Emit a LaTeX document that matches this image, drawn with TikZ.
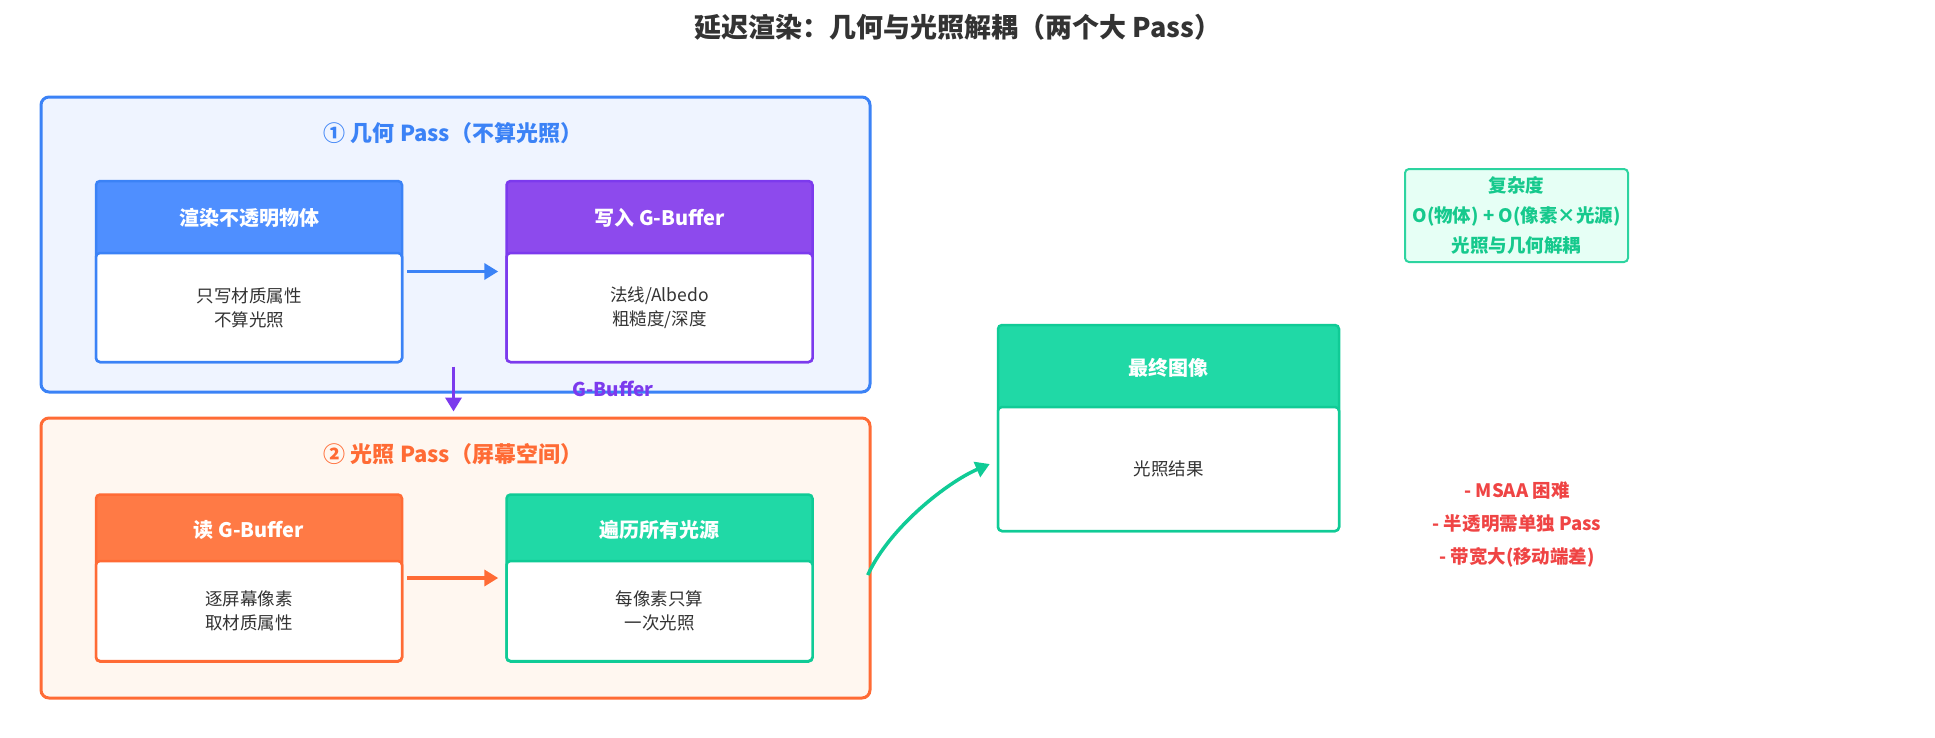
\documentclass[tikz,border=0pt]{standalone}
\usepackage{fontspec}
\setmainfont{Noto Sans CJK SC}
\usetikzlibrary{arrows.meta}
\definecolor{ttl}{HTML}{333333}
\definecolor{bodytxt}{HTML}{333333}
\definecolor{blueB}{HTML}{3B82F6}
\definecolor{blueH}{HTML}{4F8FFF}
\definecolor{blueBg}{HTML}{EFF4FF}
\definecolor{purB}{HTML}{7C3AED}
\definecolor{purH}{HTML}{8D4AED}
\definecolor{oraB}{HTML}{FF6B35}
\definecolor{oraH}{HTML}{FF7A45}
\definecolor{oraBg}{HTML}{FFF7F0}
\definecolor{grnB}{HTML}{10CB96}
\definecolor{grnH}{HTML}{20D9A6}
\definecolor{cxBg}{HTML}{E6FFF5}
\definecolor{cxB}{HTML}{2DD4A0}
\definecolor{cxT}{HTML}{16C98D}
\definecolor{redT}{HTML}{EF4444}
\tikzset{
  cluster/.style={line width=3pt, rounded corners=8pt, inner sep=0pt},
  cardbox/.style={line width=2.5pt, rounded corners=4pt, inner sep=0pt, minimum width=306pt},
  cardbody/.style={line width=2.5pt, rounded corners=4pt, inner sep=0pt, fill=white, minimum width=306pt,
     align=center, text=bodytxt, font=\fontsize{17.5}{24}\selectfont},
  hdrtxt/.style={text=white, font=\fontsize{20}{24}\selectfont\bfseries},
  cltitle/.style={font=\fontsize{22}{26}\selectfont\bfseries},
  flow/.style={line width=3.5pt, -{Triangle[length=14pt,width=16pt]}},
}
\begin{document}
\begin{tikzpicture}[x=1pt,y=-1pt]
\useasboundingbox (0,0) rectangle (1935,737);

\node[font=\fontsize{27}{32}\selectfont\bfseries, text=ttl] (title) at (958,27) {延迟渲染：几何与光照解耦（两个大 Pass）};

% clusters
\node[cluster, draw=blueB, fill=blueBg, minimum width=829pt, minimum height=295pt] (G) at (455.5,244.5) {};
\node[cltitle, text=blueB] (Gt) at (453,133) {① 几何 Pass（不算光照）};
\node[cluster, draw=oraB, fill=oraBg, minimum width=829pt, minimum height=280pt] (L) at (455.5,558) {};
\node[cltitle, text=oraB] (Lt) at (453,454) {② 光照 Pass（屏幕空间）};

% card A
\node[cardbox, draw=blueB, fill=blueH, minimum height=181pt] (A) at (249,271.5) {};
\node[hdrtxt] (Ah) at (249,218) {渲染不透明物体};
\node[cardbody, draw=blueB, minimum height=109pt] (Ab) at (249,307.5) {只写材质属性\\不算光照};
% card B
\node[cardbox, draw=purB, fill=purH, minimum height=181pt] (B) at (659.5,271.5) {};
\node[hdrtxt] (Bh) at (659.5,218) {写入 G-Buffer};
\node[cardbody, draw=purB, minimum height=109pt] (Bb) at (659.5,307.5) {法线/Albedo\\粗糙度/深度};
% card C
\node[cardbox, draw=oraB, fill=oraH, minimum height=167pt] (C) at (249,578) {};
\node[hdrtxt] (Ch) at (249,530) {读 G-Buffer};
\node[cardbody, draw=oraB, minimum height=100pt] (Cb) at (249,611) {逐屏幕像素\\取材质属性};
% card D
\node[cardbox, draw=grnB, fill=grnH, minimum height=167pt] (D) at (659.5,578) {};
\node[hdrtxt] (Dh) at (659.5,530) {遍历所有光源};
\node[cardbody, draw=grnB, minimum height=100pt] (Db) at (659.5,611) {每像素只算\\一次光照};
% card E
\node[cardbox, draw=grnB, fill=grnH, minimum width=341pt, minimum height=206pt] (E) at (1168.5,428) {};
\node[hdrtxt] (Eh) at (1168.5,368) {最终图像};
\node[cardbody, draw=grnB, minimum width=341pt, minimum height=124pt] (Eb) at (1168.5,469) {光照结果};

% connectors
\draw[flow, blueB] ([xshift=4pt]A.east) -- ([xshift=-7pt]B.west);
\draw[flow, oraB] ([xshift=4pt]C.east) -- ([xshift=-7pt]D.west);
\draw[flow, purB] ([xshift=-2pt,yshift=27pt]G.south) -- ([xshift=-2pt,yshift=5pt]L.north);
\node[text=purB, font=\fontsize{19}{22}\selectfont\bfseries] (gbl) at (613,389) {G-Buffer};
\draw[flow, grnB] ([xshift=54pt,yshift=3pt]D.east) .. controls +(22,-48) and +(-42,18) .. ([xshift=-7pt,yshift=-36pt]E.west);

% complexity box
\node[draw=cxB, fill=cxBg, line width=2pt, rounded corners=4pt, minimum width=223pt, minimum height=93pt,
  inner sep=0pt, align=center, text=cxT, font=\fontsize{18.5}{30}\selectfont\bfseries] (cx) at (1516.5,215.5)
  {复杂度\\O(物体) + O(像素×光源)\\光照与几何解耦};

% drawbacks
\node[align=center, text=redT, font=\fontsize{18.5}{33}\selectfont\bfseries] (cons) at (1517,524)
  {- MSAA 困难\\- 半透明需单独 Pass\\- 带宽大(移动端差)};
\end{tikzpicture}
\end{document}
